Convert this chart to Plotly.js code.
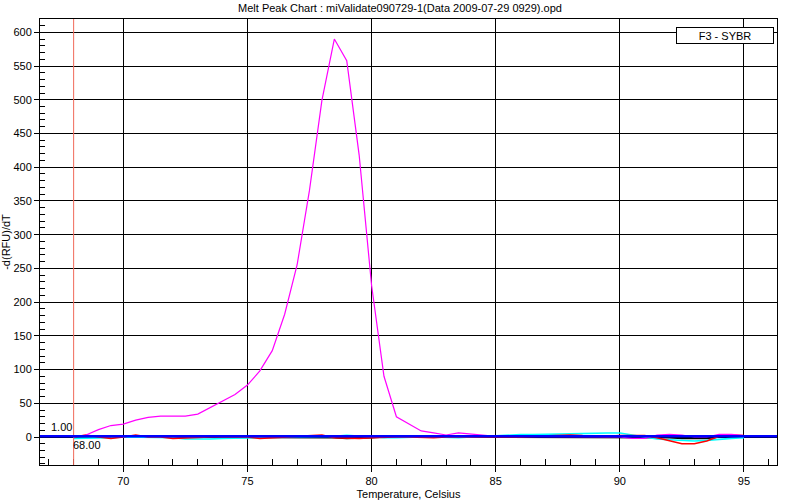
<!DOCTYPE html>
<html>
<head>
<meta charset="utf-8">
<script src="https://cdn.plot.ly/plotly-3.0.1.min.js"></script>
<style>
html,body{margin:0;padding:0;background:#fff;}
#chart{width:800px;height:500px;}
</style>
</head>
<body>
<div id="chart"></div>
<script>
// Temperature (Celsius), 0.5 degree steps
var temps = [68.0,68.5,69.0,69.5,70.0,70.5,71.0,71.5,72.0,72.5,73.0,73.5,74.0,74.5,75.0,75.5,76.0,76.5,77.0,77.5,
             78.0,78.5,79.0,79.5,80.0,80.5,81.0,81.5,82.0,82.5,83.0,83.5,84.0,84.5,85.0,85.5,86.0,86.5,87.0,87.5,
             88.0,88.5,89.0,89.5,90.0,90.5,91.0,91.5,92.0,92.5,93.0,93.5,94.0,94.5,95.0];

// -d(RFU)/dT per well
var wellMagenta = [0,3,11,17,19,25,29,31,31,31,34,44,54,63,77,98,128,182,255,366,
                   499,590,558,418,225,90,30,20,9,6,3,6,4,2,1,1,1,1,1,1,
                   1,1,1,1,0,-2,-2,3,4,3,0,0,4,4,2];
var wellRed = [0,3,0,-2,0,3,0,0,-2,-1,-1,0,0,0,0,-2,-1,0,0,1,
               3,-1,-2,-2,-1,0,0,0,-1,-1,0,0,0,0,-1,0,0,1,2,3,
               3,2,1,1,2,2,2,-1,-5,-10,-10,-6,1,3,2];
var wellCyan = [-2,-2,-1,-1,0,0,0,-1,-1,-3,-3.5,-3,-2,-2,-1,-1,0,0,0,0,
                1,1,2.5,1,0,-1,-1,0,0,0,-1,-1,0,1,2.5,3,3.5,3.5,4,5,
                5.5,5,5.5,6,6,3,-1,-3,-4,-5,-6,-5,-3,-2,-1];
var wellBlack = [0,0,0,-1,0,0,0,0,0,0,0,0,0,0,0,0,0,0,0,0,
                 0,-1,-2,-2,-1,0,0,0,0,0,0,0,0,0,0,0,0,0,0,0,
                 0,0,0,0,0,0,0,0,-1,-2,-2,-2,0,0,0];

var thresholdY = 1.00;   // blue threshold line
var cutoffX = 68.00;     // red vertical line
var legendLabel = "F3 - SYBR";
var xTicks = [70,75,80,85,90,95];
var yTicks = [0,50,100,150,200,250,300,350,400,450,500,550,600];

var FONT = "Arial, 'Liberation Sans', sans-serif";

function tr(y, color, w) {
  return {x: temps, y: y, type: 'scatter', mode: 'lines', line: {color: color, width: w}, showlegend: false, hoverinfo: 'skip'};
}

var data = [
  tr(wellBlack, '#000000', 1.6),
  tr(wellCyan, '#00ffff', 1.6),
  tr(wellRed, '#ff0000', 1.6),
  tr(wellMagenta, '#ff00ff', 1.2)
];

var layout = {
  width: 800, height: 500,
  margin: {l: 40, r: 23, t: 19, b: 35},
  paper_bgcolor: '#ffffff', plot_bgcolor: '#ffffff',
  font: {family: FONT, size: 11, color: '#000'},
  title: {text: 'Melt Peak Chart : miValidate090729-1(Data 2009-07-29 0929).opd',
          x: 0.5, xref: 'container', xanchor: 'center', y: 0.984, yref: 'container', yanchor: 'middle',
          font: {family: FONT, size: 11, color: '#000'}},
  xaxis: {
    range: [66.645, 96.33], tickmode: 'array', tickvals: xTicks, ticktext: xTicks.map(String),
    showgrid: true, gridcolor: '#000', gridwidth: 1, zeroline: false,
    showline: true, linecolor: '#000', linewidth: 1, mirror: true,
    ticks: 'outside', ticklen: 6, tickcolor: '#000', tickwidth: 1,
    minor: {dtick: 1, ticks: 'inside', ticklen: 6, tickcolor: '#000', tickwidth: 1, showgrid: false},
    title: {text: 'Temperature, Celsius', standoff: 6, font: {family: FONT, size: 11}},
    tickfont: {family: FONT, size: 11}
  },
  yaxis: {
    range: [-41.5, 619.7], tickmode: 'array', tickvals: yTicks, ticktext: yTicks.map(String),
    showgrid: true, gridcolor: '#000', gridwidth: 1, zeroline: false,
    showline: true, linecolor: '#000', linewidth: 1, mirror: true,
    ticks: 'outside', ticklen: 5, tickcolor: '#000', tickwidth: 1,
    minor: {dtick: 10, ticks: 'inside', ticklen: 5, tickcolor: '#000', tickwidth: 1, showgrid: false},
    title: {text: '-d(RFU)/dT', standoff: 4, font: {family: FONT, size: 11}},
    tickfont: {family: FONT, size: 11}
  },
  shapes: [
    {type: 'line', xref: 'x', yref: 'paper', x0: cutoffX, x1: cutoffX, y0: 0, y1: 1,
     line: {color: '#f06a5a', width: 1}},
    {type: 'line', xref: 'paper', yref: 'y', x0: 0, x1: 1, y0: thresholdY, y1: thresholdY,
     line: {color: '#0000ff', width: 2.5}}
  ],
  annotations: [
    {x: cutoffX, y: thresholdY, xref: 'x', yref: 'y', text: thresholdY.toFixed(2), showarrow: false,
     xanchor: 'right', yanchor: 'bottom', xshift: 0, yshift: 1, font: {family: FONT, size: 11, color: '#000'}},
    {x: cutoffX, y: thresholdY, xref: 'x', yref: 'y', text: cutoffX.toFixed(2), showarrow: false,
     xanchor: 'left', yanchor: 'top', xshift: -3, yshift: -1, font: {family: FONT, size: 11, color: '#000'}},
    {x: (725 - 40) / 737, y: (465 - 35.5) / 446, xref: 'paper', yref: 'paper', text: legendLabel, showarrow: false,
     xanchor: 'center', yanchor: 'middle', width: 96, height: 15, borderpad: 0, borderwidth: 1,
     bordercolor: '#000', bgcolor: '#ffffff', font: {family: FONT, size: 11, color: '#000'}}
  ]
};

Plotly.newPlot('chart', data, layout, {staticPlot: true, displayModeBar: false});
</script>
</body>
</html>
